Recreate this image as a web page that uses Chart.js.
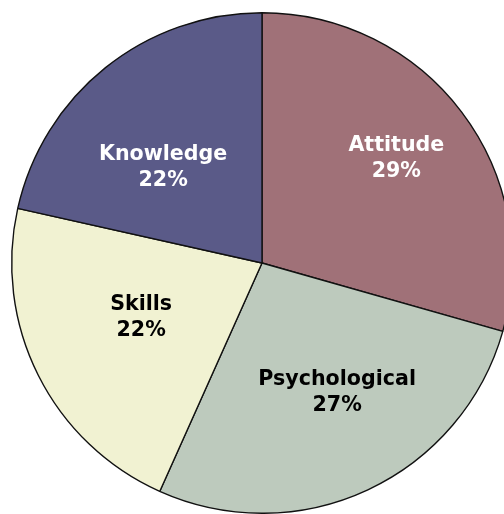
<!DOCTYPE html>
<html>
<head>
<meta charset="utf-8">
<script src="https://cdn.jsdelivr.net/npm/chart.js@4/dist/chart.umd.min.js"></script>
<style>
  html, body { margin: 0; padding: 0; background: #fff; overflow: hidden; width: 504px; height: 514px; }
  #wrap { position: absolute; left: 0; top: 0; width: 524px; height: 526px; }
</style>
</head>
<body>
<div id="wrap"><canvas id="pieChart" width="524" height="526"></canvas></div>
<script>
// slice data, clockwise from 12 o'clock
var categories = ['Attitude', 'Psychological', 'Skills', 'Knowledge'];
var shares = [29.4, 27.3, 21.8, 21.5];
var sliceColors = ['#A07178', '#BDCABD', '#F1F2D2', '#5A5A88'];
var labelColors = ['#ffffff', '#000000', '#000000', '#ffffff'];

// where each label sits inside its slice (fraction of radius, angle nudge in degrees)
var labelRadius = [0.68, 0.60, 0.53, 0.55];
var labelNudge = [-0.8, -5, 2.3, -7.2];

var sliceLabels = {
  id: 'sliceLabels',
  afterDatasetsDraw: function(chart) {
    var ctx = chart.ctx;
    var meta = chart.getDatasetMeta(0);
    ctx.save();
    ctx.font = 'bold 20.6px "DejaVu Sans", Verdana, sans-serif';
    ctx.textAlign = 'center';
    ctx.textBaseline = 'middle';
    meta.data.forEach(function(arc, i) {
      var mid = (arc.startAngle + arc.endAngle) / 2 + labelNudge[i] * Math.PI / 180;
      var r = arc.outerRadius * labelRadius[i];
      var x = arc.x + Math.cos(mid) * r;
      var y = arc.y + Math.sin(mid) * r;
      ctx.fillStyle = labelColors[i];
      ctx.fillText(categories[i], x, y - 13);
      ctx.fillText(Math.round(shares[i]) + '%', x, y + 13);
    });
    ctx.restore();
  }
};

var ctx = document.getElementById('pieChart').getContext('2d');
var chart = new Chart(ctx, {
  type: 'pie',
  data: {
    labels: categories,
    datasets: [{
      data: shares,
      backgroundColor: sliceColors,
      borderColor: '#111111',
      borderWidth: 1.4
    }]
  },
  options: {
    responsive: false,
    animation: false,
    layout: { padding: { left: 11, right: 11, top: 12, bottom: 12 } },
    plugins: {
      legend: { display: false },
      tooltip: { enabled: false }
    }
  },
  plugins: [sliceLabels]
});
</script>
</body>
</html>
